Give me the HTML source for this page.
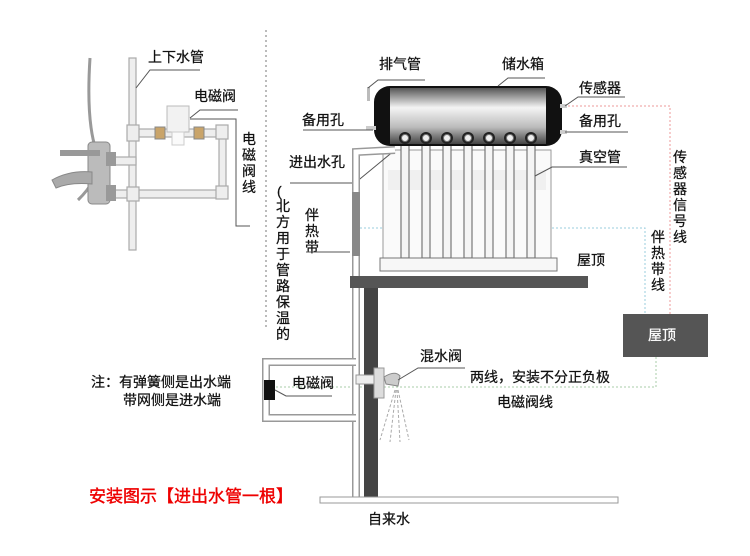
<!DOCTYPE html>
<html><head><meta charset="utf-8"><style>
html,body{margin:0;padding:0;background:#fff}
svg{display:block}
text{font-family:"Liberation Sans","Noto Sans CJK SC",sans-serif;font-size:14px;fill:#111;stroke:#111;stroke-width:0.25}
</style></head><body>
<svg width="750" height="556" viewBox="0 0 750 556" xmlns="http://www.w3.org/2000/svg">
<defs>
<linearGradient id="tank" x1="0" y1="0" x2="0" y2="1">
<stop offset="0" stop-color="#555"/><stop offset="0.35" stop-color="#f4f4f4"/><stop offset="0.7" stop-color="#bbb"/><stop offset="1" stop-color="#444"/>
</linearGradient>
</defs>
<line x1="266" y1="30" x2="266" y2="330" stroke="#bbb" stroke-width="2" stroke-dasharray="2,3"/>

<path d="M90 58 Q86 120 96 150 Q104 175 78 200" fill="none" stroke="#999" stroke-width="3"/>
<g fill="#eee" stroke="#aaa" stroke-width="1.2">
<rect x="129" y="58" width="7" height="192"/>
<rect x="110" y="157" width="26" height="8"/>
<rect x="136" y="129" width="90" height="8"/>
<rect x="219" y="129" width="7" height="68"/>
<rect x="110" y="190" width="116" height="8"/>
<rect x="127" y="125" width="12" height="16"/>
<rect x="127" y="187" width="12" height="14"/>
<rect x="216" y="125" width="12" height="14"/>
<rect x="216" y="186" width="12" height="13"/>
</g>
<rect x="155" y="127" width="10" height="12" fill="#c9a46a" stroke="#888"/>
<rect x="194" y="127" width="10" height="12" fill="#c9a46a" stroke="#888"/>
<rect x="167" y="106" width="22" height="26" fill="#f2f2f2" stroke="#bbb"/>
<rect x="172" y="132" width="12" height="13" fill="#fafafa" stroke="#ccc"/>
<rect x="88" y="142" width="22" height="62" rx="4" fill="#bbb" stroke="#888"/>
<rect x="60" y="150" width="40" height="6" fill="#999"/>
<path d="M52 180 Q70 170 92 172 L92 184 Q70 182 56 188 Z" fill="#aaa" stroke="#888"/>
<rect x="106" y="152" width="10" height="14" fill="#999"/>
<rect x="106" y="185" width="10" height="16" fill="#999"/>
<polyline points="136,88 150,70 200,70" fill="none" stroke="#555"/>
<polyline points="190,118 200,110 238,110" fill="none" stroke="#555"/>
<polyline points="190,119 236,119 236,226 250,226" fill="none" stroke="#555"/>
<text x="148" y="62">上下水管</text>
<text x="194" y="101">电磁阀</text>
<text x="242" y="144">电</text><text x="242" y="160">磁</text><text x="242" y="176">阀</text><text x="242" y="192">线</text>
<text x="277" y="196">(</text>
<text x="276" y="211">北</text><text x="276" y="227">方</text><text x="276" y="243">用</text><text x="276" y="259">于</text><text x="276" y="275">管</text><text x="276" y="291">路</text><text x="276" y="307">保</text><text x="276" y="323">温</text><text x="276" y="339">的</text>
<text x="305" y="220">伴</text><text x="305" y="236">热</text><text x="305" y="252">带</text>
<line x1="306" y1="252" x2="350" y2="252" stroke="#555"/>

<polyline points="560,106 670,106 670,316" fill="none" stroke="#e99" stroke-width="1" stroke-dasharray="2,2"/>
<polyline points="360,228 645,228 645,316" fill="none" stroke="#9cd" stroke-width="1" stroke-dasharray="2,2"/>
<polyline points="276,387 656,387 656,357" fill="none" stroke="#aca" stroke-width="1" stroke-dasharray="2,2"/>

<rect x="383" y="150" width="168" height="108" fill="#fafafa" stroke="#999"/>
<rect x="388" y="170" width="158" height="20" fill="#f0f0f0"/>
<g fill="#f5f5f5" stroke="#777" stroke-width="1.2">
<rect x="401" y="138" width="8" height="120"/>
<rect x="422" y="138" width="8" height="120"/>
<rect x="443" y="138" width="8" height="120"/>
<rect x="464" y="138" width="8" height="120"/>
<rect x="485" y="138" width="8" height="120"/>
<rect x="506" y="138" width="8" height="120"/>
<rect x="527" y="138" width="8" height="120"/>
</g>
<rect x="380" y="258" width="177" height="13" fill="#f7f7f7" stroke="#777"/>
<rect x="374" y="86" width="188" height="60" rx="16" fill="#111"/>
<rect x="390" y="88" width="156" height="56" fill="url(#tank)"/>
<g fill="#222"><circle cx="405" cy="138" r="6"/><circle cx="426" cy="138" r="6"/><circle cx="447" cy="138" r="6"/><circle cx="468" cy="138" r="6"/><circle cx="489" cy="138" r="6"/><circle cx="510" cy="138" r="6"/><circle cx="531" cy="138" r="6"/></g>
<g fill="#eee" stroke="#777"><circle cx="405" cy="138" r="3.5"/><circle cx="426" cy="138" r="3.5"/><circle cx="447" cy="138" r="3.5"/><circle cx="468" cy="138" r="3.5"/><circle cx="489" cy="138" r="3.5"/><circle cx="510" cy="138" r="3.5"/><circle cx="531" cy="138" r="3.5"/></g>
<rect x="367" y="87" width="3" height="14" fill="#bbb"/>
<rect x="366" y="126" width="10" height="4" fill="#ccc"/>
<rect x="560" y="104" width="7" height="4" fill="#ccc"/>
<rect x="560" y="130" width="7" height="4" fill="#ccc"/>
<polyline points="368,88 378,80 425,80" fill="none" stroke="#555"/>
<polyline points="498,86 508,78 545,78" fill="none" stroke="#555"/>
<polyline points="565,106 578,97 625,97" fill="none" stroke="#555"/>
<line x1="565" y1="132" x2="628" y2="132" stroke="#555"/>
<line x1="303" y1="130" x2="373" y2="130" stroke="#555"/>
<polyline points="535,176 552,167 627,167" fill="none" stroke="#555"/>
<polyline points="290,183 355,183 395,150" fill="none" stroke="#555"/>
<text x="379" y="69">排气管</text>
<text x="502" y="69">储水箱</text>
<text x="579" y="93">传感器</text>
<text x="302" y="125">备用孔</text>
<text x="579" y="126">备用孔</text>
<text x="289" y="167">进出水孔</text>
<text x="579" y="162">真空管</text>
<text x="577" y="265">屋顶</text>
<text x="673" y="162">传</text><text x="673" y="178">感</text><text x="673" y="194">器</text><text x="673" y="210">信</text><text x="673" y="226">号</text><text x="673" y="242">线</text>
<text x="651" y="242">伴</text><text x="651" y="258">热</text><text x="651" y="274">带</text><text x="651" y="290">线</text>

<polyline points="356,500 356,152 395,150" fill="none" stroke="#999" stroke-width="8"/>
<polyline points="356,500 356,152 395,150" fill="none" stroke="#fff" stroke-width="5"/>
<rect x="352" y="192" width="8" height="64" fill="#888"/>
<rect x="350" y="276" width="238" height="12" fill="#555"/>
<rect x="364" y="288" width="14" height="212" fill="#444"/>
<rect x="623" y="314" width="85" height="43" fill="#555"/>
<text x="648" y="340" style="fill:#fff;stroke:#fff">屋顶</text>

<path d="M356 362 H266 V418 H356" fill="none" stroke="#999" stroke-width="8"/>
<path d="M356 362 H266 V418 H356" fill="none" stroke="#fff" stroke-width="5"/>
<rect x="264" y="380" width="11" height="20" fill="#111"/>
<polyline points="275,390 286,396 332,396" fill="none" stroke="#555"/>
<text x="292" y="388">电磁阀</text>
<text x="91" y="387">注：有弹簧侧是出水端</text>
<text x="123" y="405">带网侧是进水端</text>
<rect x="356" y="375" width="22" height="9" fill="#eee" stroke="#999"/>
<rect x="374" y="368" width="10" height="30" fill="#ddd" stroke="#999"/>
<path d="M384 377 Q395 370 400 376 L398 386 L386 384 Z" fill="#ccc" stroke="#888"/>
<g stroke="#aaa" stroke-dasharray="3,2"><line x1="395" y1="390" x2="380" y2="440"/><line x1="396" y1="390" x2="390" y2="442"/><line x1="397" y1="390" x2="400" y2="442"/><line x1="398" y1="390" x2="409" y2="440"/></g>
<polyline points="398,380 418,368 465,368" fill="none" stroke="#555"/>
<text x="420" y="361">混水阀</text>
<text x="470" y="382">两线，安装不分正负极</text>
<text x="497" y="407">电磁阀线</text>

<rect x="320" y="497" width="298" height="6" fill="#fff" stroke="#999"/>
<text x="368" y="524">自来水</text>
<text x="89" y="502" style="fill:#e00;stroke:#e00;stroke-width:0.4;font-size:17px">安装图示【进出水管一根】</text>
</svg>
</body></html>
